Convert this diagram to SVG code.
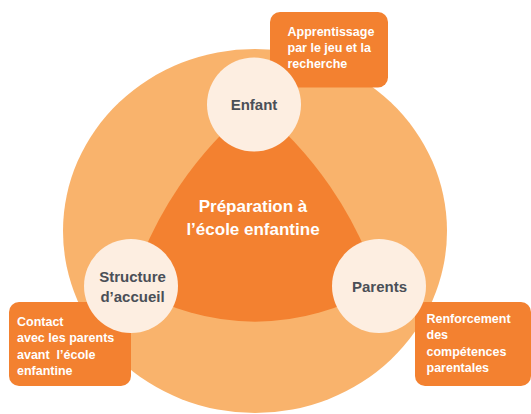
<svg xmlns="http://www.w3.org/2000/svg" width="531" height="414" viewBox="0 0 531 414">
<style>
.bg{fill:#F9B36C}
.core{fill:#F38130}
.box{fill:#F38130}
.node{fill:#FDEEE1}
.nt{font-family:"Liberation Sans",Arial,sans-serif;font-weight:bold;font-size:15px;fill:#4A4F57;text-anchor:middle}
.ct{font-family:"Liberation Sans",Arial,sans-serif;font-weight:bold;font-size:17px;fill:#FFFFFF;text-anchor:middle}
.bt{font-family:"Liberation Sans",Arial,sans-serif;font-weight:bold;font-size:12.5px;fill:#FFFFFF}
</style>
<g id="background">
<ellipse class="bg" cx="255" cy="231" rx="192" ry="182"/>
</g>
<g id="center">
<path class="core" d="M 254 104.5 A 383 383 0 0 0 131 286 A 233 233 0 0 0 379 286 A 383 383 0 0 0 254 104.5 Z"/>
<text class="ct" x="253" y="212">Préparation à</text>
<text class="ct" x="253" y="235">l’école enfantine</text>
</g>
<g id="connectors"></g>
<g id="box-apprentissage">
<rect class="box" x="270" y="12" width="118" height="75.5" rx="10"/>
<text class="bt" x="287.5" y="35.5">Apprentissage</text>
<text class="bt" x="287.5" y="52">par le jeu et la</text>
<text class="bt" x="287.5" y="67.5">recherche</text>
</g>
<g id="box-contact">
<rect class="box" x="9" y="302" width="122" height="84" rx="10"/>
<text class="bt" x="17" y="325.5">Contact</text>
<text class="bt" x="17" y="342">avec les parents</text>
<text class="bt" x="17" y="358.5" xml:space="preserve">avant  l’école</text>
<text class="bt" x="17" y="375">enfantine</text>
</g>
<g id="box-renforcement">
<rect class="box" x="415" y="302" width="116" height="84" rx="10"/>
<text class="bt" x="426.5" y="322.5">Renforcement</text>
<text class="bt" x="426.5" y="339">des</text>
<text class="bt" x="426.5" y="355.5">compétences</text>
<text class="bt" x="426.5" y="372">parentales</text>
</g>
<g id="node-enfant">
<circle class="node" cx="254" cy="104.5" r="47"/>
<text class="nt" x="254" y="109.5">Enfant</text>
</g>
<g id="node-structure">
<circle class="node" cx="131" cy="286" r="47"/>
<text class="nt" x="132.5" y="281.5">Structure</text>
<text class="nt" x="132.5" y="301.5">d’accueil</text>
</g>
<g id="node-parents">
<circle class="node" cx="379" cy="286" r="47"/>
<text class="nt" x="379.5" y="291.5">Parents</text>
</g>
</svg>
